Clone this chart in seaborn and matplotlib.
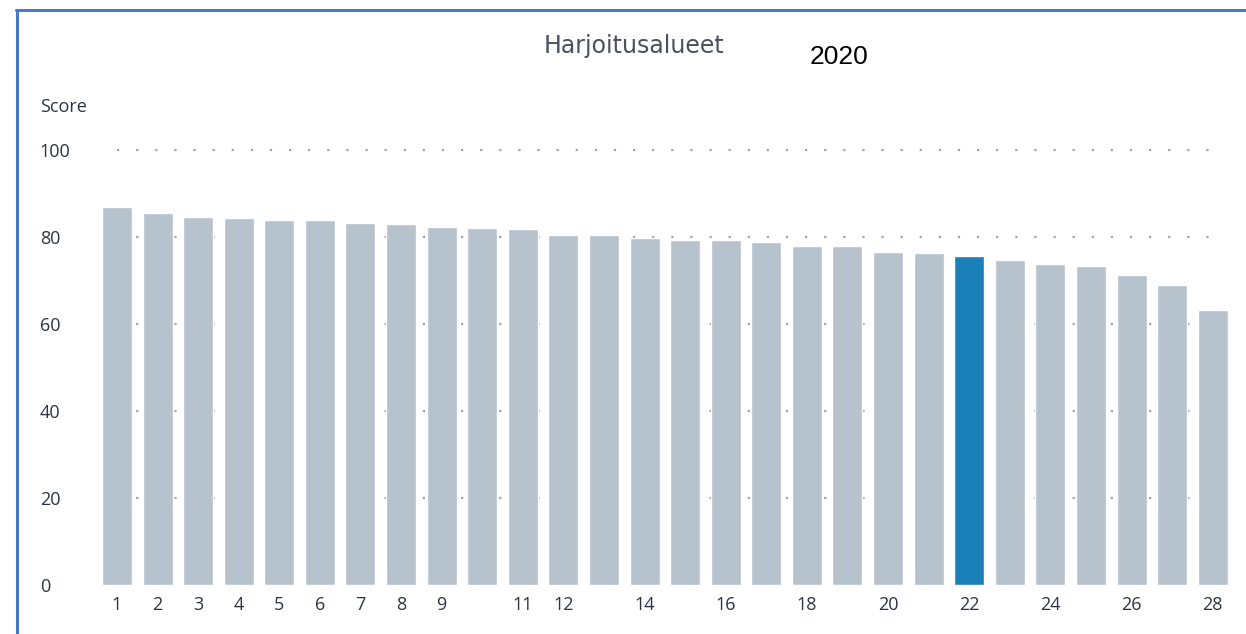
import matplotlib
matplotlib.use("Agg")
import matplotlib.pyplot as plt
import seaborn as sns
import pandas as pd
from matplotlib.lines import Line2D

# data
regions = [str(i) for i in range(1, 29)]
scores = [86.9, 85.5, 84.6, 84.4, 83.9, 83.9, 83.2, 83.0, 82.3, 82.1,
          81.8, 80.5, 80.5, 79.8, 79.2, 79.2, 78.9, 78.0, 77.9, 76.6,
          76.4, 75.7, 74.7, 73.9, 73.3, 71.3, 68.9, 63.2]
highlight = "22"
shown_ticks = ["1", "2", "3", "4", "5", "6", "7", "8", "9", "11", "12",
               "14", "16", "18", "20", "22", "24", "26", "28"]
y_ticks = [0, 20, 40, 60, 80, 100]

df = pd.DataFrame({"region": regions, "score": scores})
df["group"] = ["hl" if r == highlight else "base" for r in regions]

sns.set_theme(style="white")
plt.rcParams["font.family"] = ["Open Sans", "DejaVu Sans"]

W, H = 1246, 634
fig = plt.figure(figsize=(W / 100, H / 100), dpi=100)
ax = fig.add_axes([96.7 / W, (H - 585) / H, (1233 - 96.7) / W, (585 - 150) / H])

# dotted guide lines behind the bars
for y in y_ticks[1:]:
    ax.hlines(y, 0, len(regions) - 1, colors="#9aa6b5", linewidth=1.6,
              linestyles=(0, (1, 7.6)), zorder=0, clip_on=False)

sns.barplot(data=df, x="region", y="score", hue="group", order=regions,
            palette={"base": "#b6c2cc", "hl": "#1b80b8"}, width=0.74,
            legend=False, ax=ax, saturation=1, zorder=2)

ax.set_xlim(-0.5, len(regions) - 0.5)
ax.set_ylim(0, 100)
ax.set_xticks([regions.index(t) for t in shown_ticks])
ax.set_xticklabels(shown_ticks, fontsize=13, color="#2b3345")
ax.set_yticks(y_ticks)
ax.set_yticklabels([str(v) for v in y_ticks], fontsize=13, color="#2b3345", ha="left")
ax.tick_params(axis="x", length=0, pad=8)
ax.tick_params(axis="y", length=0, pad=41)
ax.set_xlabel("")
ax.set_ylabel("")
for s in ax.spines.values():
    s.set_visible(False)

fig.text(40 / W, 1 - 107 / H, "Score", fontsize=13, color="#2b3345",
         ha="left", va="center")
fig.text(634 / W, 1 - 46 / H, "Harjoitusalueet", fontsize=17, color="#4a5060",
         family=["DejaVu Sans"], ha="center", va="center")
fig.text(839 / W, 1 - 57 / H, "2020", fontsize=19, color="black",
         family=["Liberation Sans", "DejaVu Sans"], ha="center", va="center")

# blue frame of the screenshot
fig.add_artist(Line2D([16 / W, 1], [1 - 9.5 / H, 1 - 9.5 / H], transform=fig.transFigure,
                      color="#4a78c8", linewidth=2.2))
fig.add_artist(Line2D([16.5 / W, 16.5 / W], [0, 1 - 9.5 / H], transform=fig.transFigure,
                      color="#4a78c8", linewidth=2.2))

fig.savefig("out.png", dpi=100)
